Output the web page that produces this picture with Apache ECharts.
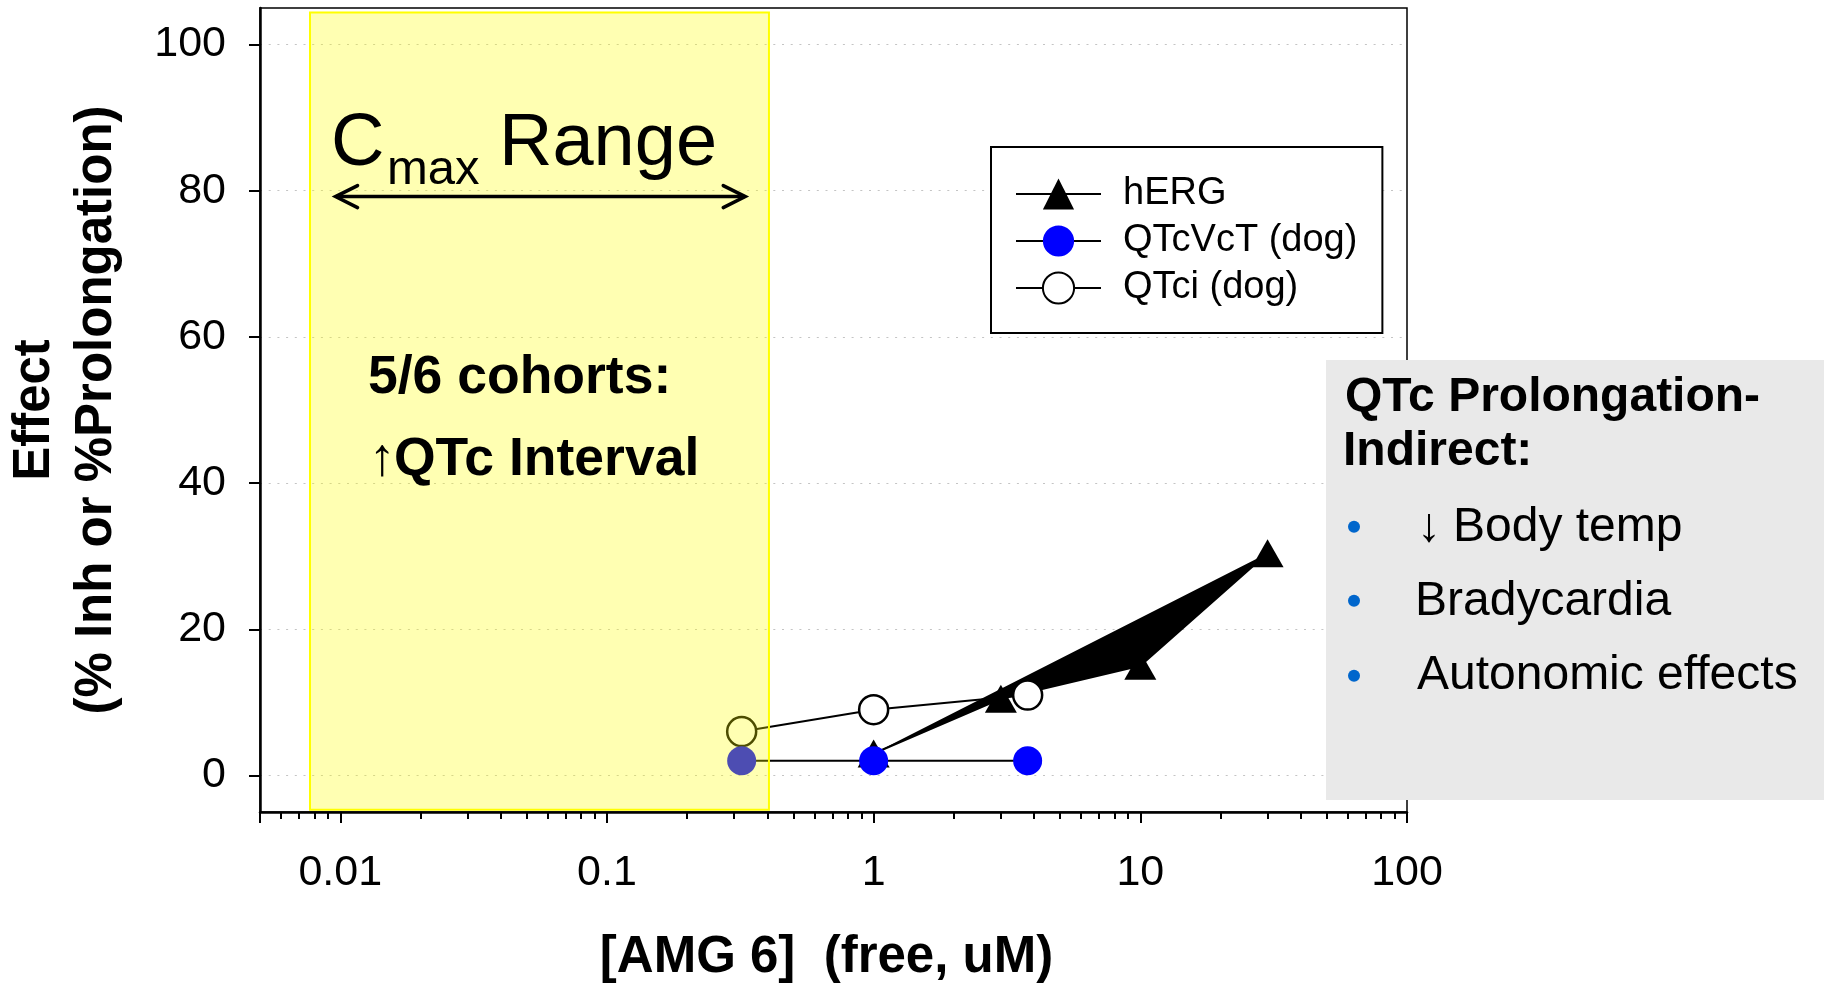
<!DOCTYPE html>
<html><head><meta charset="utf-8">
<script src="https://cdn.jsdelivr.net/npm/echarts@6/dist/echarts.min.js"></script>
<style>html,body{margin:0;padding:0;background:#fff}#c{width:1824px;height:984px}</style>
</head><body><div id="c"></div>
<script>
const FONT = "'Liberation Sans', Arial, Helvetica, sans-serif";

// ---- data ----
const HERG_X = [1, 3, 10, 30];
const HERG_Y = [3, 10.5, 15, 30.4];
const QTCVCT_X = [0.32, 1, 3.78];
const QTCVCT_Y = [2, 2, 2];
const QTCI_X = [0.32, 1, 3.78];
const QTCI_Y = [6, 9, 11];

// ---- axes ----
const X_RANGE = [0.005, 100];
const Y_RANGE = [-5, 105];
const X_LABELS = [0.01, 0.1, 1, 10, 100];
const X_MINOR = [0.006, 0.007, 0.008, 0.009,
  0.02, 0.03, 0.04, 0.05, 0.06, 0.07, 0.08, 0.09,
  0.2, 0.3, 0.4, 0.5, 0.6, 0.7, 0.8, 0.9,
  2, 3, 4, 5, 6, 7, 8, 9,
  20, 30, 40, 50, 60, 70, 80, 90];
const Y_TICKS = [0, 20, 40, 60, 80, 100];

// ---- annotations ----
const CMAX_BAND_X = [0.0077, 0.405];
const CMAX_BAND_Y = [-4.7, 104.4];
const CMAX_ARROW_X = [0.0096, 0.33];
const CMAX_ARROW_Y = 79.2;

const pts = (xs, ys) => xs.map((x, i) => [x, ys[i]]);

const chart = echarts.init(document.getElementById('c'), null, {renderer: 'canvas'});

const option = {
  animation: false,
  backgroundColor: '#fff',
  textStyle: {fontFamily: FONT},
  grid: {
    left: 260, right: 417, top: 8, bottom: 172,
    show: true, borderColor: '#000', borderWidth: 1.5, backgroundColor: 'transparent',
    containLabel: false, outerBoundsMode: 'none'
  },
  legend: {
    orient: 'vertical', left: 991, top: 147,
    padding: [28, 25, 26, 24],
    borderColor: '#000', borderWidth: 2, backgroundColor: '#fff',
    itemWidth: 85, itemHeight: 39, itemGap: 9,
    selectedMode: false,
    textStyle: {fontSize: 38, color: '#000', fontFamily: FONT, padding: [0, 0, 0, 17]},
    data: ['hERG', 'QTcVcT (dog)', 'QTci (dog)']
  },
  xAxis: [{
    type: 'log', logBase: 10, min: X_RANGE[0], max: X_RANGE[1], position: 'bottom',
    name: '[AMG 6]  (free, uM)', nameLocation: 'middle', nameGap: 120, nameMoveOverlap: false,
    nameTextStyle: {fontSize: 51, fontWeight: 'bold', color: '#000', fontFamily: FONT, lineHeight: 51, padding: [0, 14, 0, 0]},
    axisLine: {show: true, onZero: false, lineStyle: {color: '#000', width: 2.5}},
    axisTick: {show: true, length: 11, lineStyle: {color: '#000', width: 2}},
    axisLabel: {
      fontSize: 43, color: '#000', margin: 40, fontFamily: FONT,
      formatter: v => {
        for (const l of X_LABELS) { if (Math.abs(v - l) / l < 1e-6) return String(l); }
        return '';
      }
    },
    splitLine: {show: false}, minorTick: {show: false}
  }, {
    type: 'log', logBase: 10, min: X_RANGE[0], max: X_RANGE[1], position: 'bottom',
    axisLine: {show: false, onZero: false},
    axisTick: {show: true, length: 7, customValues: X_MINOR, lineStyle: {color: '#000', width: 2}},
    axisLabel: {show: false},
    splitLine: {show: false}
  }],
  yAxis: {
    type: 'value', min: Y_RANGE[0], max: Y_RANGE[1],
    name: 'Effect\n(% Inh or %Prolongation)', nameLocation: 'middle', nameGap: 132, nameRotate: 90,
    nameMoveOverlap: false,
    nameTextStyle: {fontSize: 51, fontWeight: 'bold', color: '#000', fontFamily: FONT, lineHeight: 62},
    axisLine: {show: true, onZero: false, lineStyle: {color: '#000', width: 2.5}},
    axisTick: {show: true, length: 11, customValues: Y_TICKS, lineStyle: {color: '#000', width: 2}},
    axisLabel: {fontSize: 43, color: '#000', margin: 34, fontFamily: FONT, customValues: Y_TICKS},
    splitLine: {show: true, customValues: Y_TICKS, lineStyle: {color: '#c4c4c4', width: 1.2, type: [2, 6.7]}}
  },
  series: [
    {
      name: 'hERG-fill', type: 'custom', silent: true, z: 2,
      data: pts(HERG_X, HERG_Y),
      renderItem: (params, api) => {
        if (params.dataIndex !== 0) return null;
        const poly = pts(HERG_X, HERG_Y).map(p => api.coord(p));
        return {type: 'polygon', shape: {points: poly}, style: {fill: '#000'}};
      }
    },
    {
      name: 'hERG', type: 'line', z: 3,
      data: pts(HERG_X, HERG_Y),
      symbol: 'triangle', symbolSize: [32, 28],
      itemStyle: {color: '#000'},
      lineStyle: {color: '#000', width: 2}
    },
    {
      name: 'QTci (dog)', type: 'line', z: 4,
      data: pts(QTCI_X, QTCI_Y),
      symbol: 'circle', symbolSize: 29,
      itemStyle: {color: '#fff', borderColor: '#000', borderWidth: 2.5},
      lineStyle: {color: '#000', width: 2}
    },
    {
      name: 'QTcVcT (dog)', type: 'line', z: 5,
      data: pts(QTCVCT_X, QTCVCT_Y),
      symbol: 'circle', symbolSize: 29,
      itemStyle: {color: '#0000ff'},
      lineStyle: {color: '#000', width: 2}
    },
    {
      name: 'Cmax band', type: 'custom', silent: true, z: 10,
      data: [[CMAX_BAND_X[0], CMAX_BAND_Y[0], CMAX_BAND_X[1], CMAX_BAND_Y[1]]],
      encode: {x: [0, 2], y: [1, 3]},
      renderItem: (params, api) => {
        const a = api.coord([api.value(0), api.value(1)]);
        const b = api.coord([api.value(2), api.value(3)]);
        return {
          type: 'rect',
          shape: {x: a[0], y: b[1], width: b[0] - a[0], height: a[1] - b[1]},
          style: {fill: 'rgba(255,255,0,0.3)', stroke: '#ffff00', lineWidth: 2}
        };
      }
    }
  ]
};
chart.setOption(option);

// annotations anchored in data space
const pL = chart.convertToPixel({xAxisIndex: 0, yAxisIndex: 0}, [CMAX_ARROW_X[0], CMAX_ARROW_Y]);
const pR = chart.convertToPixel({xAxisIndex: 0, yAxisIndex: 0}, [CMAX_ARROW_X[1], CMAX_ARROW_Y]);
const ay = pL[1];
const arrowStyle = {stroke: '#000', lineWidth: 3.5, fill: null, lineCap: 'round', lineJoin: 'miter'};
const txt = (x, y, text, size, weight, extra) => Object.assign({
  type: 'text', x: x, y: y, z: 100,
  style: {text: text, fontSize: size, fontWeight: weight || 'normal', fontFamily: FONT, fill: '#000',
          align: 'left', verticalAlign: 'middle'}
}, extra || {});

chart.setOption({
  graphic: {elements: [
    {type: 'line', z: 100, shape: {x1: pL[0] + 1, y1: ay, x2: pR[0] - 1, y2: ay}, style: arrowStyle},
    {type: 'polyline', z: 100, shape: {points: [[pL[0] + 22, ay - 11], [pL[0], ay], [pL[0] + 22, ay + 11]]}, style: arrowStyle},
    {type: 'polyline', z: 100, shape: {points: [[pR[0] - 22, ay - 11], [pR[0], ay], [pR[0] - 22, ay + 11]]}, style: arrowStyle},
    txt(331, 170 - 0.3465 * 74, 'C', 74),
    txt(387, 187 - 0.3465 * 49, 'max', 49),
    txt(499, 170 - 0.3465 * 74, 'Range', 74),
    txt(368, 397 - 0.3465 * 53.5, '5/6 cohorts:', 53.5, 'bold'),
    txt(369, 479 - 0.3465 * 53.5, '\u2191', 53.5, 'normal'),
    txt(394, 479 - 0.3465 * 53.5, 'QTc Interval', 53.5, 'bold'),
    {type: 'rect', z: 90, shape: {x: 1326, y: 360, width: 498, height: 440}, style: {fill: '#e9e9e9'}},
    txt(1345, 414.3 - 0.3465 * 48, 'QTc Prolongation-', 48, 'bold'),
    txt(1343, 468.3 - 0.3465 * 48, 'Indirect:', 48, 'bold'),
    {type: 'circle', z: 100, shape: {cx: 1354, cy: 526.7, r: 6}, style: {fill: '#0066cc'}},
    {type: 'circle', z: 100, shape: {cx: 1354, cy: 600.7, r: 6}, style: {fill: '#0066cc'}},
    {type: 'circle', z: 100, shape: {cx: 1354, cy: 675.7, r: 6}, style: {fill: '#0066cc'}},
    txt(1417, 544.3 - 0.3465 * 48, '\u2193', 48),
    txt(1453, 544.3 - 0.3465 * 48, 'Body temp', 48),
    txt(1415, 618.3 - 0.3465 * 48, 'Bradycardia', 48),
    txt(1417, 692.3 - 0.3465 * 48, 'Autonomic effects', 48)
  ]}
});
</script>
</body></html>
